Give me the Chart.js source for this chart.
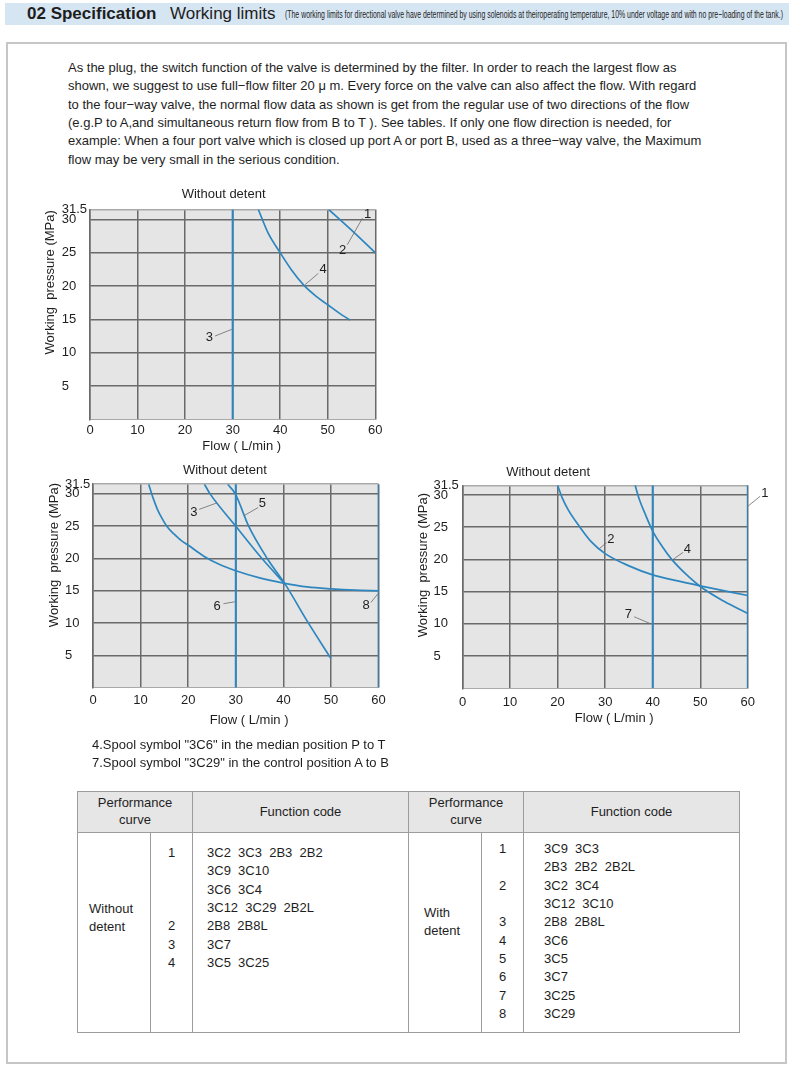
<!DOCTYPE html>
<html>
<head>
<meta charset="utf-8">
<script src="https://cdn.jsdelivr.net/npm/chart.js@4.4.1/dist/chart.umd.min.js"></script>
<style>
body { margin:0; width:792px; height:1070px; position:relative; background:#fff; overflow:hidden;
       font-family:"Liberation Sans", Arial, sans-serif; color:#1e1e1e; }
.band { position:absolute; left:5px; top:3px; width:784px; height:22px; background:#d6e5f2; }
.band span { position:absolute; top:0; line-height:22px; white-space:nowrap; }
.h1 { left:22px; font-size:17px; font-weight:bold; }
.h2 { left:165px; font-size:17px; }
.h3 { left:280px; font-size:11px; transform-origin:0 50%; }
.frame { position:absolute; left:6px; top:42px; width:777px; height:1018px; border:2px solid #c6c6c6; }
.para { position:absolute; left:68px; top:59px; font-size:13px; line-height:18.35px; white-space:pre; }
.notes { position:absolute; left:92px; top:736px; font-size:13px; line-height:18px; white-space:pre; }
canvas { position:absolute; }
table.spec { position:absolute; left:77px; top:791px; width:662px; table-layout:fixed; border-collapse:collapse;
             font-size:13px; color:#1e1e1e; }
table.spec th, table.spec td { border:1px solid #9c9c9c; padding:0; vertical-align:top; }
table.spec th { background:#e6e6e6; font-weight:normal; vertical-align:middle; text-align:center; line-height:16.7px; }
tr.head { height:41px; }
tr.body { height:200px; }
td.grp, td.code { white-space:pre; line-height:18.33px; }
td.num { text-align:center; line-height:18.33px; white-space:pre; }
</style>
</head>
<body>
<div class="band">
  <span class="h1">02 Specification</span>
  <span class="h2">Working limits</span>
  <span class="h3" id="hnote">(The working limits for directional valve have determined by using solenoids at theiroperating temperature, 10% under voltage and with no pre−loading of the tank.)</span>
</div>
<div class="frame"></div>
<div class="para">As the plug, the switch function of the valve is determined by the filter. In order to reach the largest flow as
shown, we suggest to use full−flow filter 20 μ m. Every force on the valve can also affect the flow. With regard
to the four−way valve, the normal flow data as shown is get from the regular use of two directions of the flow
(e.g.P to A,and simultaneous return flow from B to T ). See tables. If only one flow direction is needed, for
example: When a four port valve which is closed up port A or port B, used as a three−way valve, the Maximum
flow may be very small in the serious condition.</div>

<canvas id="chartTop" width="360" height="280" style="left:40px;top:180px;width:360px;height:280px"></canvas>
<canvas id="chartLeft" width="360" height="280" style="left:40px;top:460px;width:360px;height:280px"></canvas>
<canvas id="chartRight" width="382" height="280" style="left:410px;top:460px;width:382px;height:280px"></canvas>

<div class="notes">4.Spool symbol "3C6" in the median position P to T
7.Spool symbol "3C29" in the control position A to B</div>

<table class="spec">
  <colgroup><col style="width:73px"><col style="width:42px"><col style="width:216px"><col style="width:73px"><col style="width:42px"><col style="width:216px"></colgroup>
  <tr class="head">
    <th colspan="2">Performance<br>curve</th><th>Function code</th>
    <th colspan="2">Performance<br>curve</th><th>Function code</th>
  </tr>
  <tr class="body">
    <td class="grp" style="padding:67px 0 0 11px">Without
detent</td>
    <td class="num" style="padding-top:11px">1



2
3
4</td>
    <td class="code" style="padding:11px 0 0 14px">3C2  3C3  2B3  2B2
3C9  3C10
3C6  3C4
3C12  3C29  2B2L
2B8  2B8L
3C7
3C5  3C25</td>
    <td class="grp" style="padding:70.5px 0 0 15px">With
detent</td>
    <td class="num" style="padding-top:7px">1

2

3
4
5
6
7
8</td>
    <td class="code" style="padding:7px 0 0 20px">3C9  3C3
2B3  2B2  2B2L
3C2  3C4
3C12  3C10
2B8  2B8L
3C6
3C5
3C7
3C25
3C29</td>
  </tr>
</table>

<script>
// shared axes
const X_TICKS = [0, 10, 20, 30, 40, 50, 60];
const Y_TICKS = [5, 10, 15, 20, 25, 30, 31.5];

// top chart (without detent)
const top1X = [50.2, 55, 60];
const top1Y = [31.5, 28.4, 25];
const top3X = [30, 30];
const top3Y = [0, 31.5];
const top4X = [35.4, 37.5, 40, 42.5, 45, 47.5, 50, 52.5, 54.7];
const top4Y = [31.5, 27.9, 25, 22.3, 20.1, 18.5, 17.2, 15.9, 14.9];

// lower left chart
const leftAX = [11.7, 12.2, 12.8, 13.6, 14.5, 15.5, 17, 18.5, 20.1, 23.2, 26.5, 30, 35, 40, 45, 50, 55, 60];
const leftAY = [31.5, 30.3, 29.0, 27.5, 26.2, 25.0, 23.8, 22.8, 22.0, 20.4, 19.1, 18.1, 17.0, 16.2, 15.6, 15.3, 15.1, 15.0];
const left3X = [23.4, 24.6, 30, 35.5, 40.4];
const left3Y = [31.5, 30, 25, 20, 16];
const left5X = [28.3, 29.9, 32.7, 36.6, 40.4, 45, 50];
const left5Y = [31.5, 30, 25, 20, 16, 10.3, 4.5];
const left6X = [30, 30];
const left6Y = [0, 31.5];
const left8X = [60, 60];
const left8Y = [0, 31.5];

// lower right chart
const right1X = [60, 60];
const right1Y = [0, 31.5];
const right2X = [20, 21, 22.3, 24.7, 27, 30, 35, 40, 45, 50, 60];
const right2Y = [31.5, 29.5, 27.6, 25, 22.8, 20.9, 19, 17.6, 16.7, 15.9, 14.4];
const right4X = [36.3, 37.2, 38.5, 40, 42, 44, 47, 50, 55, 60];
const right4Y = [31.5, 29.3, 26.9, 24.4, 22.0, 20, 17.7, 15.8, 13.5, 11.6];
const right7X = [40, 40];
const right7Y = [0, 31.5];

const BLUE = '#2e86bf';
const GRID = '#6a6a6a';
const EDGE = '#a9a9a9';
const PLOT_BG = '#e5e5e5';
const INK = '#1e1e1e';
const FONT = {family: "'Liberation Sans', Arial, sans-serif", size: 13};
const Y_TITLE = 'Working  pressure (MPa)';

// squeeze the header remark into its space
let hnote = document.getElementById('hnote');
hnote.style.transform = 'scaleX(' + (498 / hnote.getBoundingClientRect().width) + ')';

// plot background, axis titles, leader lines and curve numbers
function makeDecor(notes) {
    return {
        id: 'decor',
        beforeDraw: function(chart) {
            let a = chart.chartArea;
            let ctx = chart.ctx;
            ctx.save();
            ctx.fillStyle = PLOT_BG;
            ctx.fillRect(a.left, a.top, a.right - a.left, a.bottom - a.top);
            ctx.restore();
        },
        afterDraw: function(chart) {
            let ctx = chart.ctx;
            let sx = chart.scales.x, sy = chart.scales.y;
            ctx.save();
            ctx.strokeStyle = '#6a6a6a';
            ctx.lineWidth = 0.8;
            notes.leaders.forEach(function(l) {
                ctx.beginPath();
                ctx.moveTo(sx.getPixelForValue(l[0]), sy.getPixelForValue(l[1]));
                ctx.lineTo(sx.getPixelForValue(l[2]), sy.getPixelForValue(l[3]));
                ctx.stroke();
            });
            ctx.fillStyle = INK;
            ctx.textBaseline = 'middle';
            ctx.font = "13px 'Liberation Sans', Arial, sans-serif";
            notes.texts.forEach(function(t) {
                let px = sx.getPixelForValue(t[1]), py = sy.getPixelForValue(t[2]);
                if (t[3] === 'rot') {
                    ctx.save();
                    ctx.translate(px, py);
                    ctx.rotate(-Math.PI / 2);
                    ctx.textAlign = 'right';
                    ctx.fillText(t[0], 0, 0);
                    ctx.restore();
                } else {
                    ctx.textAlign = 'center';
                    ctx.fillText(t[0], px, py);
                }
            });
            ctx.restore();
        }
    };
}

function line(xs, ys, smooth) {
    return {
        data: xs.map(function(x, i) { return {x: x, y: ys[i]}; }),
        borderColor: BLUE,
        borderWidth: smooth ? 1.7 : 2,
        pointRadius: 0,
        fill: false,
        tension: smooth ? 0.4 : 0,
        cubicInterpolationMode: smooth ? 'monotone' : 'default'
    };
}

function makeChart(id, box, datasets, notes) {
    return new Chart(document.getElementById(id), {
        type: 'line',
        data: {datasets: datasets},
        options: {
            responsive: false,
            animation: false,
            devicePixelRatio: 1,
            layout: {padding: {left: box.left, top: box.top, right: box.right, bottom: 0}},
            plugins: {legend: {display: false}, tooltip: {enabled: false}},
            scales: {
                x: {
                    type: 'linear', min: 0, max: 60,
                    afterBuildTicks: function(s) { s.ticks = X_TICKS.map(function(v) { return {value: v}; }); },
                    afterFit: function(s) { s.height = box.xh; },
                    grid: {color: GRID, lineWidth: 1.5, drawTicks: false},
                    border: {color: EDGE, width: 1},
                    ticks: {padding: box.xpad, color: INK, font: FONT, autoSkip: false, maxRotation: 0}
                },
                y: {
                    type: 'linear', min: 0, max: 31.5,
                    afterBuildTicks: function(s) { s.ticks = Y_TICKS.map(function(v) { return {value: v}; }); },
                    afterFit: function(s) { s.width = box.yw; },
                    grid: {
                        color: function(c) { return c.tick && c.tick.value === 31.5 ? EDGE : GRID; },
                        lineWidth: 1.5, drawTicks: false
                    },
                    border: {color: GRID, width: 1.5},
                    ticks: {padding: 3, crossAlign: 'far', color: INK, font: FONT, autoSkip: false,
                            callback: function(v) { return String(v); }}
                }
            }
        },
        plugins: [makeDecor(notes)]
    });
}

makeChart('chartTop', {left: 21.7, top: 29.5, right: 24.7, xh: 40.7, yw: 28.3, xpad: 3.6},
    [line(top1X, top1Y, true), line(top3X, top3Y, false), line(top4X, top4Y, true)],
    {
        texts: [['Without detent', 28.1, 33.7], ['Flow ( L/min )', 31.9, -4.1], [Y_TITLE, -8.3, 31.4, 'rot'],
                ['1', 58.4, 30.8], ['2', 53.1, 25.3], ['3', 25.1, 12.3], ['4', 49.0, 22.5]],
        leaders: [[57.3, 30.2, 54.1, 26.2], [26.3, 12.5, 29.8, 13.5], [48.0, 21.9, 45.2, 20.2]]
    });

makeChart('chartLeft', {left: 25, top: 24.2, right: 21.4, xh: 52.3, yw: 28, xpad: 4.5},
    [line(leftAX, leftAY, true), line(left3X, left3Y, true), line(left5X, left5Y, true),
     line(left6X, left6Y, false), line(left8X, left8Y, false)],
    {
        texts: [['Without detent', 27.7, 33.7], ['Flow ( L/min )', 32.8, -5.0], [Y_TITLE, -8.0, 31.7, 'rot'],
                ['3', 21.2, 27.2], ['5', 35.6, 28.5], ['6', 26.1, 12.6], ['8', 57.4, 12.7]],
        leaders: [[22.3, 27.6, 26.0, 28.6], [34.7, 27.9, 31.9, 26.7], [27.4, 13.0, 29.8, 13.3], [58.4, 13.2, 59.8, 14.5]]
    });

makeChart('chartRight', {left: 23.5, top: 25.3, right: 44.2, xh: 51.7, yw: 29, xpad: 6.2},
    [line(right1X, right1Y, false), line(right2X, right2Y, true), line(right4X, right4Y, true), line(right7X, right7Y, false)],
    {
        texts: [['Without detent', 18.0, 33.45], ['Flow ( L/min )', 31.9, -4.65], [Y_TITLE, -8.2, 30.3, 'rot'],
                ['1', 63.6, 30.3], ['2', 31.2, 23.1], ['4', 47.3, 21.6], ['7', 34.9, 11.4]],
        leaders: [[62.6, 29.8, 60.1, 28.3], [30.3, 22.6, 28.8, 21.7], [46.4, 21.1, 44.3, 20.0], [36.1, 11.1, 39.6, 10.0]]
    });
</script>
</body>
</html>
